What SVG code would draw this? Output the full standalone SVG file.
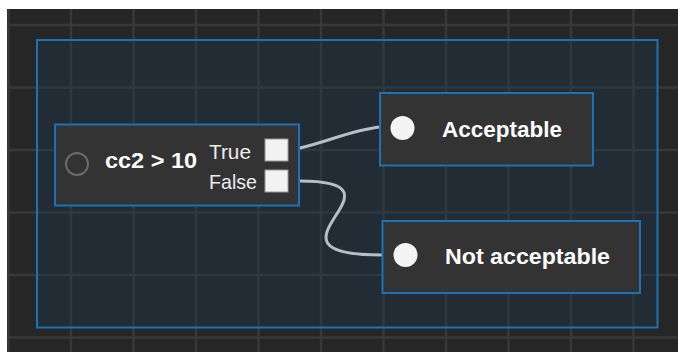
<svg xmlns="http://www.w3.org/2000/svg" width="678" height="352" viewBox="0 0 678 352">
<style>
.grid line{stroke:#383838;stroke-width:2.5}
.node{fill:#333333;stroke:#1b72b6;stroke-width:2}
.title{font-family:"Liberation Sans",Arial,sans-serif;font-weight:bold;font-size:22px;fill:#ffffff}
.port{font-family:"Liberation Sans",Arial,sans-serif;font-size:21px;fill:#ececec}
.sq{fill:#f2f2f2;stroke:#9a9a9a;stroke-width:1}
.wire{fill:none;stroke:#b4c0c8;stroke-width:3;stroke-linecap:round}
</style>
<rect width="678" height="352" fill="#ffffff"/>
<rect x="7" y="9" width="671" height="343" fill="#262626"/>
<g class="grid">
<line x1="8.5" y1="9" x2="8.5" y2="352"/>
<line x1="71" y1="9" x2="71" y2="352"/>
<line x1="133.5" y1="9" x2="133.5" y2="352"/>
<line x1="196" y1="9" x2="196" y2="352"/>
<line x1="258.5" y1="9" x2="258.5" y2="352"/>
<line x1="321" y1="9" x2="321" y2="352"/>
<line x1="383.5" y1="9" x2="383.5" y2="352"/>
<line x1="446" y1="9" x2="446" y2="352"/>
<line x1="508.5" y1="9" x2="508.5" y2="352"/>
<line x1="571" y1="9" x2="571" y2="352"/>
<line x1="633.5" y1="9" x2="633.5" y2="352"/>
<line x1="7" y1="25" x2="678" y2="25"/>
<line x1="7" y1="87.5" x2="678" y2="87.5"/>
<line x1="7" y1="150" x2="678" y2="150"/>
<line x1="7" y1="212.5" x2="678" y2="212.5"/>
<line x1="7" y1="275" x2="678" y2="275"/>
<line x1="7" y1="337.5" x2="678" y2="337.5"/>
</g>
<g id="group">
<rect x="37" y="40" width="620.5" height="287.5" fill="#1e3a52" fill-opacity="0.35" stroke="#1b72b6" stroke-width="2"/>
</g>
<g id="connectors">
<path class="wire" d="M300,148 C330,141 352,130 380,127"/>
<path class="wire" d="M300,181 C420,181 244,255 382,255"/>
</g>
<g id="cond">
<rect class="node" x="55" y="124.5" width="244" height="81"/>
<circle cx="77" cy="164" r="11" fill="none" stroke="#6a6a6a" stroke-width="2"/>
<text class="title" x="105" y="167.5" font-size="22.5" textLength="92" lengthAdjust="spacingAndGlyphs">cc2 &gt; 10</text>
<text class="port" x="209" y="159.3" textLength="42" lengthAdjust="spacingAndGlyphs">True</text>
<text class="port" x="209" y="189" textLength="48" lengthAdjust="spacingAndGlyphs">False</text>
<rect class="sq" x="265" y="139" width="23" height="22"/>
<rect class="sq" x="265" y="170" width="23" height="22"/>
</g>
<g id="acceptable">
<rect class="node" x="380" y="93" width="213" height="72.5"/>
<circle cx="402.5" cy="128" r="12" fill="#f4f4f4"/>
<text class="title" x="442" y="136.7" textLength="120" lengthAdjust="spacingAndGlyphs">Acceptable</text>
</g>
<g id="notacceptable">
<rect class="node" x="382.5" y="221" width="257.5" height="72"/>
<circle cx="405.5" cy="255" r="12" fill="#f4f4f4"/>
<text class="title" x="445" y="264.3" textLength="165" lengthAdjust="spacingAndGlyphs">Not acceptable</text>
</g>
</svg>
